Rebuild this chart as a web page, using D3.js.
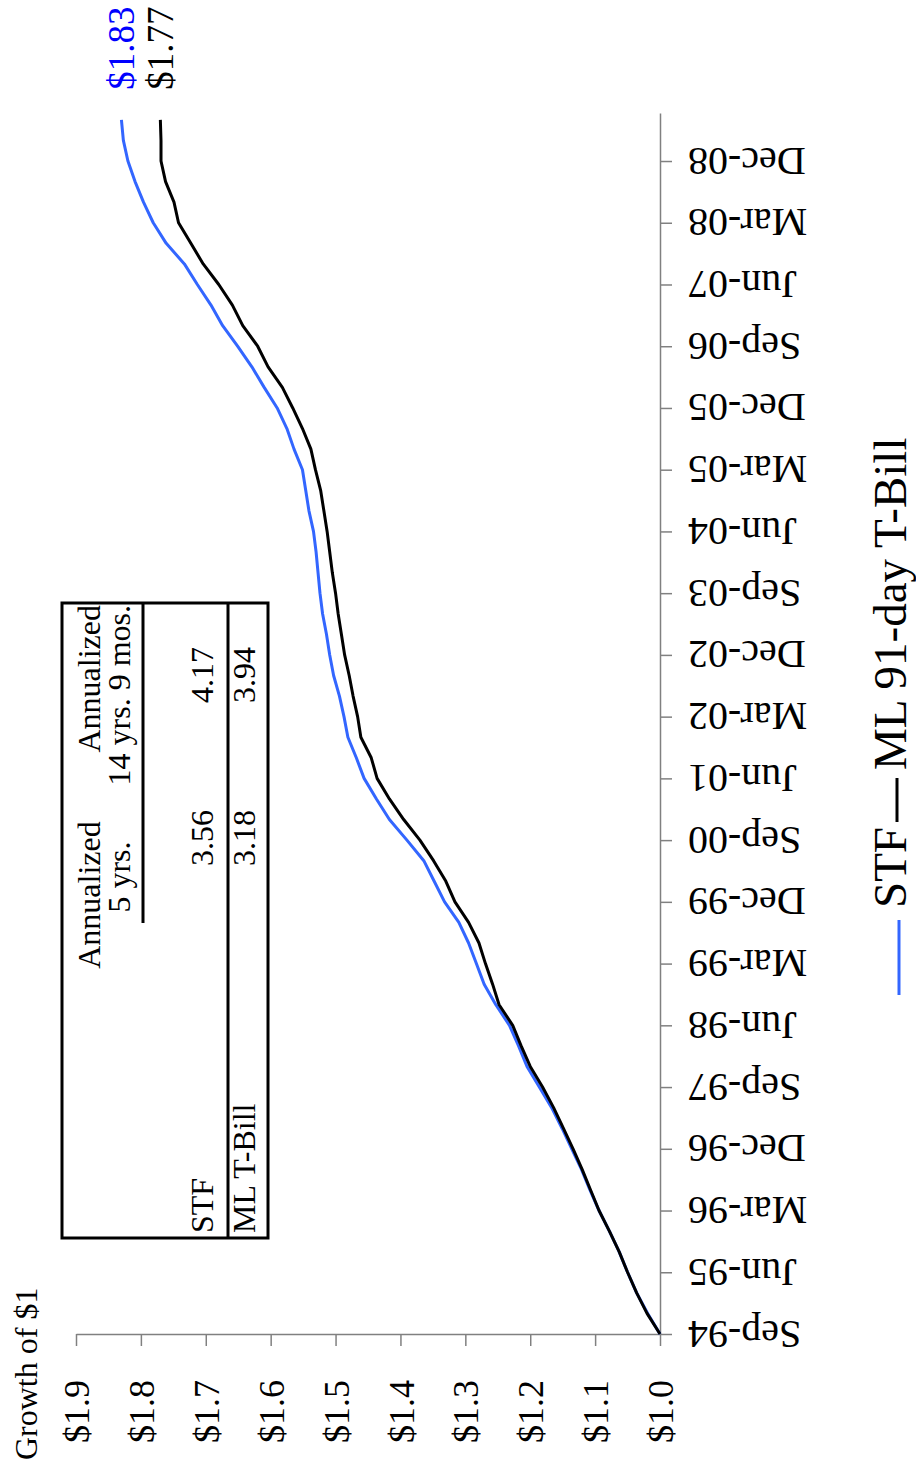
<!DOCTYPE html>
<html>
<head>
<meta charset="utf-8">
<script src="https://cdn.jsdelivr.net/npm/d3@7"></script>
<style>
  html, body { margin: 0; padding: 0; background: #fff; }
  svg { display: block; }
  text { font-family: "Liberation Serif", "Times New Roman", serif; }
</style>
</head>
<body>
<svg id="chart" width="916" height="1468"></svg>
<script>
// Growth of $1, quarterly points from Sep-94 (month 0) to Jun-09 (month 177)
const quarterMonths = d3.range(0, 178, 3);

const stfValues = [
  1.000, 1.019, 1.036, 1.050, 1.063, 1.078, 1.094, 1.108, 1.121, 1.136,
  1.151, 1.167, 1.186, 1.205, 1.218, 1.232, 1.253, 1.271, 1.283, 1.295,
  1.310, 1.332, 1.348, 1.364, 1.390, 1.417, 1.437, 1.456, 1.468, 1.481,
  1.487, 1.494, 1.503, 1.509, 1.514, 1.520, 1.524, 1.527, 1.530, 1.534,
  1.541, 1.546, 1.551, 1.564, 1.575, 1.590, 1.610, 1.629, 1.651, 1.674,
  1.692, 1.713, 1.733, 1.761, 1.781, 1.796, 1.809, 1.820, 1.827, 1.830
];

const tbillValues = [
  1.000, 1.020, 1.036, 1.050, 1.063, 1.078, 1.094, 1.107, 1.120, 1.134,
  1.149, 1.164, 1.181, 1.200, 1.214, 1.227, 1.248, 1.258, 1.269, 1.279,
  1.295, 1.316, 1.330, 1.349, 1.370, 1.395, 1.417, 1.436, 1.445, 1.461,
  1.466, 1.473, 1.479, 1.486, 1.491, 1.496, 1.500, 1.505, 1.509, 1.513,
  1.518, 1.523, 1.531, 1.538, 1.551, 1.566, 1.582, 1.604, 1.620, 1.643,
  1.659, 1.680, 1.704, 1.723, 1.742, 1.749, 1.762, 1.769, 1.769, 1.770
];

const dateTickMonths = d3.range(0, 172, 9);
const dateTickLabels = [
  "Sep-94", "Jun-95", "Mar-96", "Dec-96", "Sep-97", "Jun-98", "Mar-99",
  "Dec-99", "Sep-00", "Jun-01", "Mar-02", "Dec-02", "Sep-03", "Jun-04",
  "Mar-05", "Dec-05", "Sep-06", "Jun-07", "Mar-08", "Dec-08"
];
const valueTicks = [1.0, 1.1, 1.2, 1.3, 1.4, 1.5, 1.6, 1.7, 1.8, 1.9];

const seriesNames = ["STF", "ML 91-day T-Bill"];
const seriesColors = ["#3366ff", "#000000"];
const labelColors = ["#0000ff", "#000000"];

// Performance table
const tableColumns = [["Annualized", "5 yrs."], ["Annualized", "14 yrs. 9 mos."]];
const tableRows = ["STF", "ML T-Bill"];
const tableValues = [["3.56", "4.17"], ["3.18", "3.94"]];

const svg = d3.select("#chart");

// Value axis runs right-to-left along the bottom, time runs bottom-to-top
const x = d3.scaleLinear().domain([1.0, 1.9]).range([660, 76]);
const y = d3.scaleLinear().domain([0, 178]).range([1334, 113]);

const axisColor = "#808080";

// Value axis
const xAxis = svg.append("g")
  .attr("transform", "translate(0,1334)")
  .call(d3.axisBottom(x).tickValues(valueTicks).tickSize(12).tickSizeOuter(0)
    .tickFormat(d => "$" + d.toFixed(1)));
xAxis.select(".domain").attr("stroke", axisColor).attr("stroke-width", 1.5);
xAxis.selectAll(".tick line").attr("stroke", axisColor).attr("stroke-width", 1.5);
xAxis.selectAll(".tick text")
  .attr("x", 0).attr("y", 0).attr("dy", "0.35em")
  .attr("transform", "translate(0,46) rotate(-90)")
  .attr("text-anchor", "end")
  .attr("font-family", "Liberation Serif, Times New Roman, serif")
  .attr("font-size", 36).attr("fill", "#000");

// Date axis
const yAxis = svg.append("g")
  .attr("transform", "translate(660,0)")
  .call(d3.axisRight(y).tickValues(dateTickMonths).tickSize(12).tickSizeOuter(0)
    .tickFormat((d, i) => dateTickLabels[i]));
yAxis.select(".domain").attr("stroke", axisColor).attr("stroke-width", 1.5);
yAxis.selectAll(".tick line").attr("stroke", axisColor).attr("stroke-width", 1.5);
yAxis.selectAll(".tick text")
  .attr("x", 0).attr("y", 0).attr("dy", "0.35em")
  .attr("transform", "translate(28,0) rotate(180)")
  .attr("text-anchor", "end")
  .attr("font-family", "Liberation Serif, Times New Roman, serif")
  .attr("font-size", 40).attr("fill", "#000");

// Title
svg.append("text")
  .attr("transform", "translate(37,1460) rotate(-90)")
  .attr("text-anchor", "start")
  .attr("font-size", 32)
  .text("Growth of $1");

// Lines
const series = [stfValues, tbillValues];
const line = d3.line()
  .x(d => x(d.v))
  .y(d => y(d.m));

series.forEach((vals, i) => {
  const pts = vals.map((v, j) => ({ m: quarterMonths[j], v }));
  svg.append("path")
    .datum(pts)
    .attr("fill", "none")
    .attr("stroke", seriesColors[i])
    .attr("stroke-width", 3)
    .attr("stroke-linejoin", "round")
    .attr("d", line);
  const last = pts[pts.length - 1];
  svg.append("text")
    .attr("transform", `translate(${x(last.v)},${y(last.m) - 30}) rotate(-90)`)
    .attr("dy", "0.35em")
    .attr("text-anchor", "start")
    .attr("font-size", 37)
    .attr("fill", labelColors[i])
    .text("$" + last.v.toFixed(2));
});

// Table
const tbl = svg.append("g");
tbl.append("rect")
  .attr("x", 62).attr("y", 603).attr("width", 206).attr("height", 635)
  .attr("fill", "none").attr("stroke", "#000").attr("stroke-width", 3);
tbl.append("line").attr("x1", 228).attr("x2", 228).attr("y1", 603).attr("y2", 1238)
  .attr("stroke", "#000").attr("stroke-width", 3);
tbl.append("line").attr("x1", 143).attr("x2", 143).attr("y1", 603).attr("y2", 923)
  .attr("stroke", "#000").attr("stroke-width", 3);

function tText(tx, ty, anchor, str) {
  tbl.append("text")
    .attr("transform", `translate(${tx},${ty}) rotate(-90)`)
    .attr("text-anchor", anchor)
    .attr("font-size", 32)
    .text(str);
}
// column headers
tText(100, 895, "middle", tableColumns[0][0]);
tText(130, 877, "middle", tableColumns[0][1]);
tText(100, 605, "end", tableColumns[1][0]);
tText(130, 605, "end", tableColumns[1][1]);
// rows
const rowBase = [213, 255];
tableRows.forEach((r, i) => {
  tText(rowBase[i], 1233, "start", r);
  tText(rowBase[i], 838, "middle", tableValues[i][0]);
  tText(rowBase[i], 675, "middle", tableValues[i][1]);
});

// Legend
const lg = svg.append("g");
lg.append("line").attr("x1", 899).attr("x2", 899).attr("y1", 995).attr("y2", 920)
  .attr("stroke", seriesColors[0]).attr("stroke-width", 3);
lg.append("text")
  .attr("transform", "translate(906,908) rotate(-90)")
  .attr("text-anchor", "start").attr("font-size", 47)
  .text(seriesNames[0]);
lg.append("line").attr("x1", 897).attr("x2", 897).attr("y1", 822).attr("y2", 778)
  .attr("stroke", seriesColors[1]).attr("stroke-width", 3);
lg.append("text")
  .attr("transform", "translate(906,770) rotate(-90)")
  .attr("text-anchor", "start").attr("font-size", 47)
  .text(seriesNames[1]);
</script>
</body>
</html>
